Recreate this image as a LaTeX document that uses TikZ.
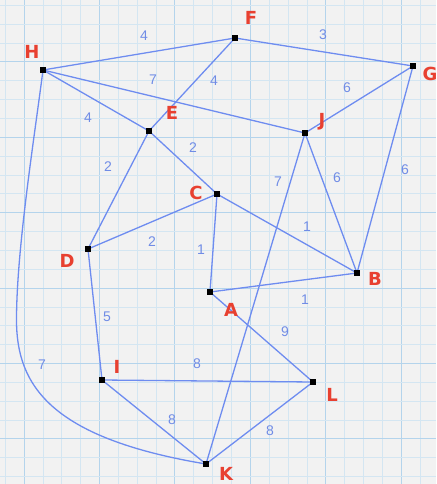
\documentclass[tikz,border=0pt]{standalone}
\usepackage{fontspec}
\setmainfont{DejaVu Sans}
\newfontfamily\wfont{Liberation Sans}
\begin{document}
\begin{tikzpicture}[x=1pt,y=-1pt,
  vtx/.style={draw=none,fill=black,minimum size=6.5pt,inner sep=0pt,rectangle},
  lbl/.style={text=lblred,font=\fontsize{18}{18}\selectfont\bfseries,inner sep=0pt},
  wt/.style={text=wtblue,font=\wfont\fontsize{14}{14}\selectfont,inner sep=0pt},
  edge/.style={draw=edgeblue,line width=1.3pt},
  minorgrid/.style={draw=gridminor,line width=0.8pt},
  majorgrid/.style={draw=gridmajor,line width=1pt}]
\definecolor{lblred}{RGB}{232,64,48}
\definecolor{wtblue}{RGB}{112,140,230}
\definecolor{edgeblue}{RGB}{110,140,240}
\definecolor{gridminor}{RGB}{212,230,242}
\definecolor{gridmajor}{RGB}{180,212,236}
\definecolor{paper}{RGB}{242,242,242}
\useasboundingbox (0,0) rectangle (436,484);
\fill[paper] (0,0) rectangle (436,484);
% grid
\foreach \k in {0,...,23} {
  \pgfmathsetmacro{\gx}{5.2+18.86*\k}
  \pgfmathtruncatemacro{\m}{mod(\k,4)}
  \ifnum\m=1
    \draw[majorgrid] (\gx,0) -- (\gx,484);
  \else
    \draw[minorgrid] (\gx,0) -- (\gx,484);
  \fi
}
\foreach \k in {0,...,25} {
  \pgfmathsetmacro{\gy}{5.2+18.86*\k}
  \pgfmathtruncatemacro{\m}{mod(\k,4)}
  \ifnum\m=3
    \draw[majorgrid] (0,\gy) -- (436,\gy);
  \else
    \draw[minorgrid] (0,\gy) -- (436,\gy);
  \fi
}
% vertices
\node[vtx] (H) at (43,70) {};
\node[vtx] (F) at (235,38) {};
\node[vtx] (G) at (413,66) {};
\node[vtx] (E) at (149,131) {};
\node[vtx] (J) at (305,133) {};
\node[vtx] (C) at (217,194) {};
\node[vtx] (D) at (88,249) {};
\node[vtx] (B) at (357,273) {};
\node[vtx] (A) at (210,292) {};
\node[vtx] (I) at (102,380) {};
\node[vtx] (L) at (313,382) {};
\node[vtx] (K) at (206,464) {};
\coordinate (hk) at (16.5,320);
% edges
\draw[edge] (H.center) -- (F.center);
\draw[edge] (F.center) -- (G.center);
\draw[edge] (H.center) -- (J.center);
\draw[edge] (F.center) -- (E.center);
\draw[edge] (H.center) -- (E.center);
\draw[edge] (G.center) -- (J.center);
\draw[edge] (G.center) -- (B.center);
\draw[edge] (J.center) -- (B.center);
\draw[edge] (J.center) -- (K.center);
\draw[edge] (E.center) -- (D.center);
\draw[edge] (E.center) -- (C.center);
\draw[edge] (C.center) -- (B.center);
\draw[edge] (C.center) -- (D.center);
\draw[edge] (C.center) -- (A.center);
\draw[edge] (A.center) -- (B.center);
\draw[edge] (A.center) -- (L.center);
\draw[edge] (D.center) -- (I.center);
\draw[edge] (I.center) -- (L.center);
\draw[edge] (I.center) -- (K.center);
\draw[edge] (K.center) -- (L.center);
\draw[edge] (H.center) .. controls (34,140) and (16.5,250) .. (hk)
                       .. controls (16.5,385) and (50,438) .. (K.center);
% redraw vertices on top
\foreach \v in {H,F,G,E,J,C,D,B,A,I,L,K} { \fill (\v.south west) rectangle (\v.north east); }
% vertex labels
\node[lbl] (Hl) at (32,52) {H};
\node[lbl] (Fl) at (251,18) {F};
\node[lbl] (Gl) at (430,74) {G};
\node[lbl] (El) at (172,113) {E};
\node[lbl] (Jl) at (322,122) {J};
\node[lbl] (Cl) at (196,193) {C};
\node[lbl] (Dl) at (67,261) {D};
\node[lbl] (Bl) at (375,279) {B};
\node[lbl] (Al) at (231,310) {A};
\node[lbl] (Il) at (117,367) {I};
\node[lbl] (Ll) at (332,395) {L};
\node[lbl] (Kl) at (226,474) {K};
% weights
\node[wt] (wHF) at (144,36) {4};
\node[wt] (wFG) at (323,35) {3};
\node[wt] (wHJ) at (153,80) {7};
\node[wt] (wFE) at (214,81) {4};
\node[wt] (wHE) at (88,118) {4};
\node[wt] (wED) at (108,167) {2};
\node[wt] (wEC) at (193,148) {2};
\node[wt] (wGJ) at (347,88) {6};
\node[wt] (wGB) at (405,170) {6};
\node[wt] (wJB) at (337,178) {6};
\node[wt] (wJK) at (278,182) {7};
\node[wt] (wCB) at (307,227) {1};
\node[wt] (wCD) at (152,242) {2};
\node[wt] (wCA) at (201,250) {1};
\node[wt] (wAB) at (305,300) {1};
\node[wt] (wAL) at (285,332) {9};
\node[wt] (wDI) at (107,317) {5};
\node[wt] (wIL) at (197,364) {8};
\node[wt] (wHK) at (42,365) {7};
\node[wt] (wIK) at (172,420) {8};
\node[wt] (wKL) at (270,431) {8};
\end{tikzpicture}
\end{document}
